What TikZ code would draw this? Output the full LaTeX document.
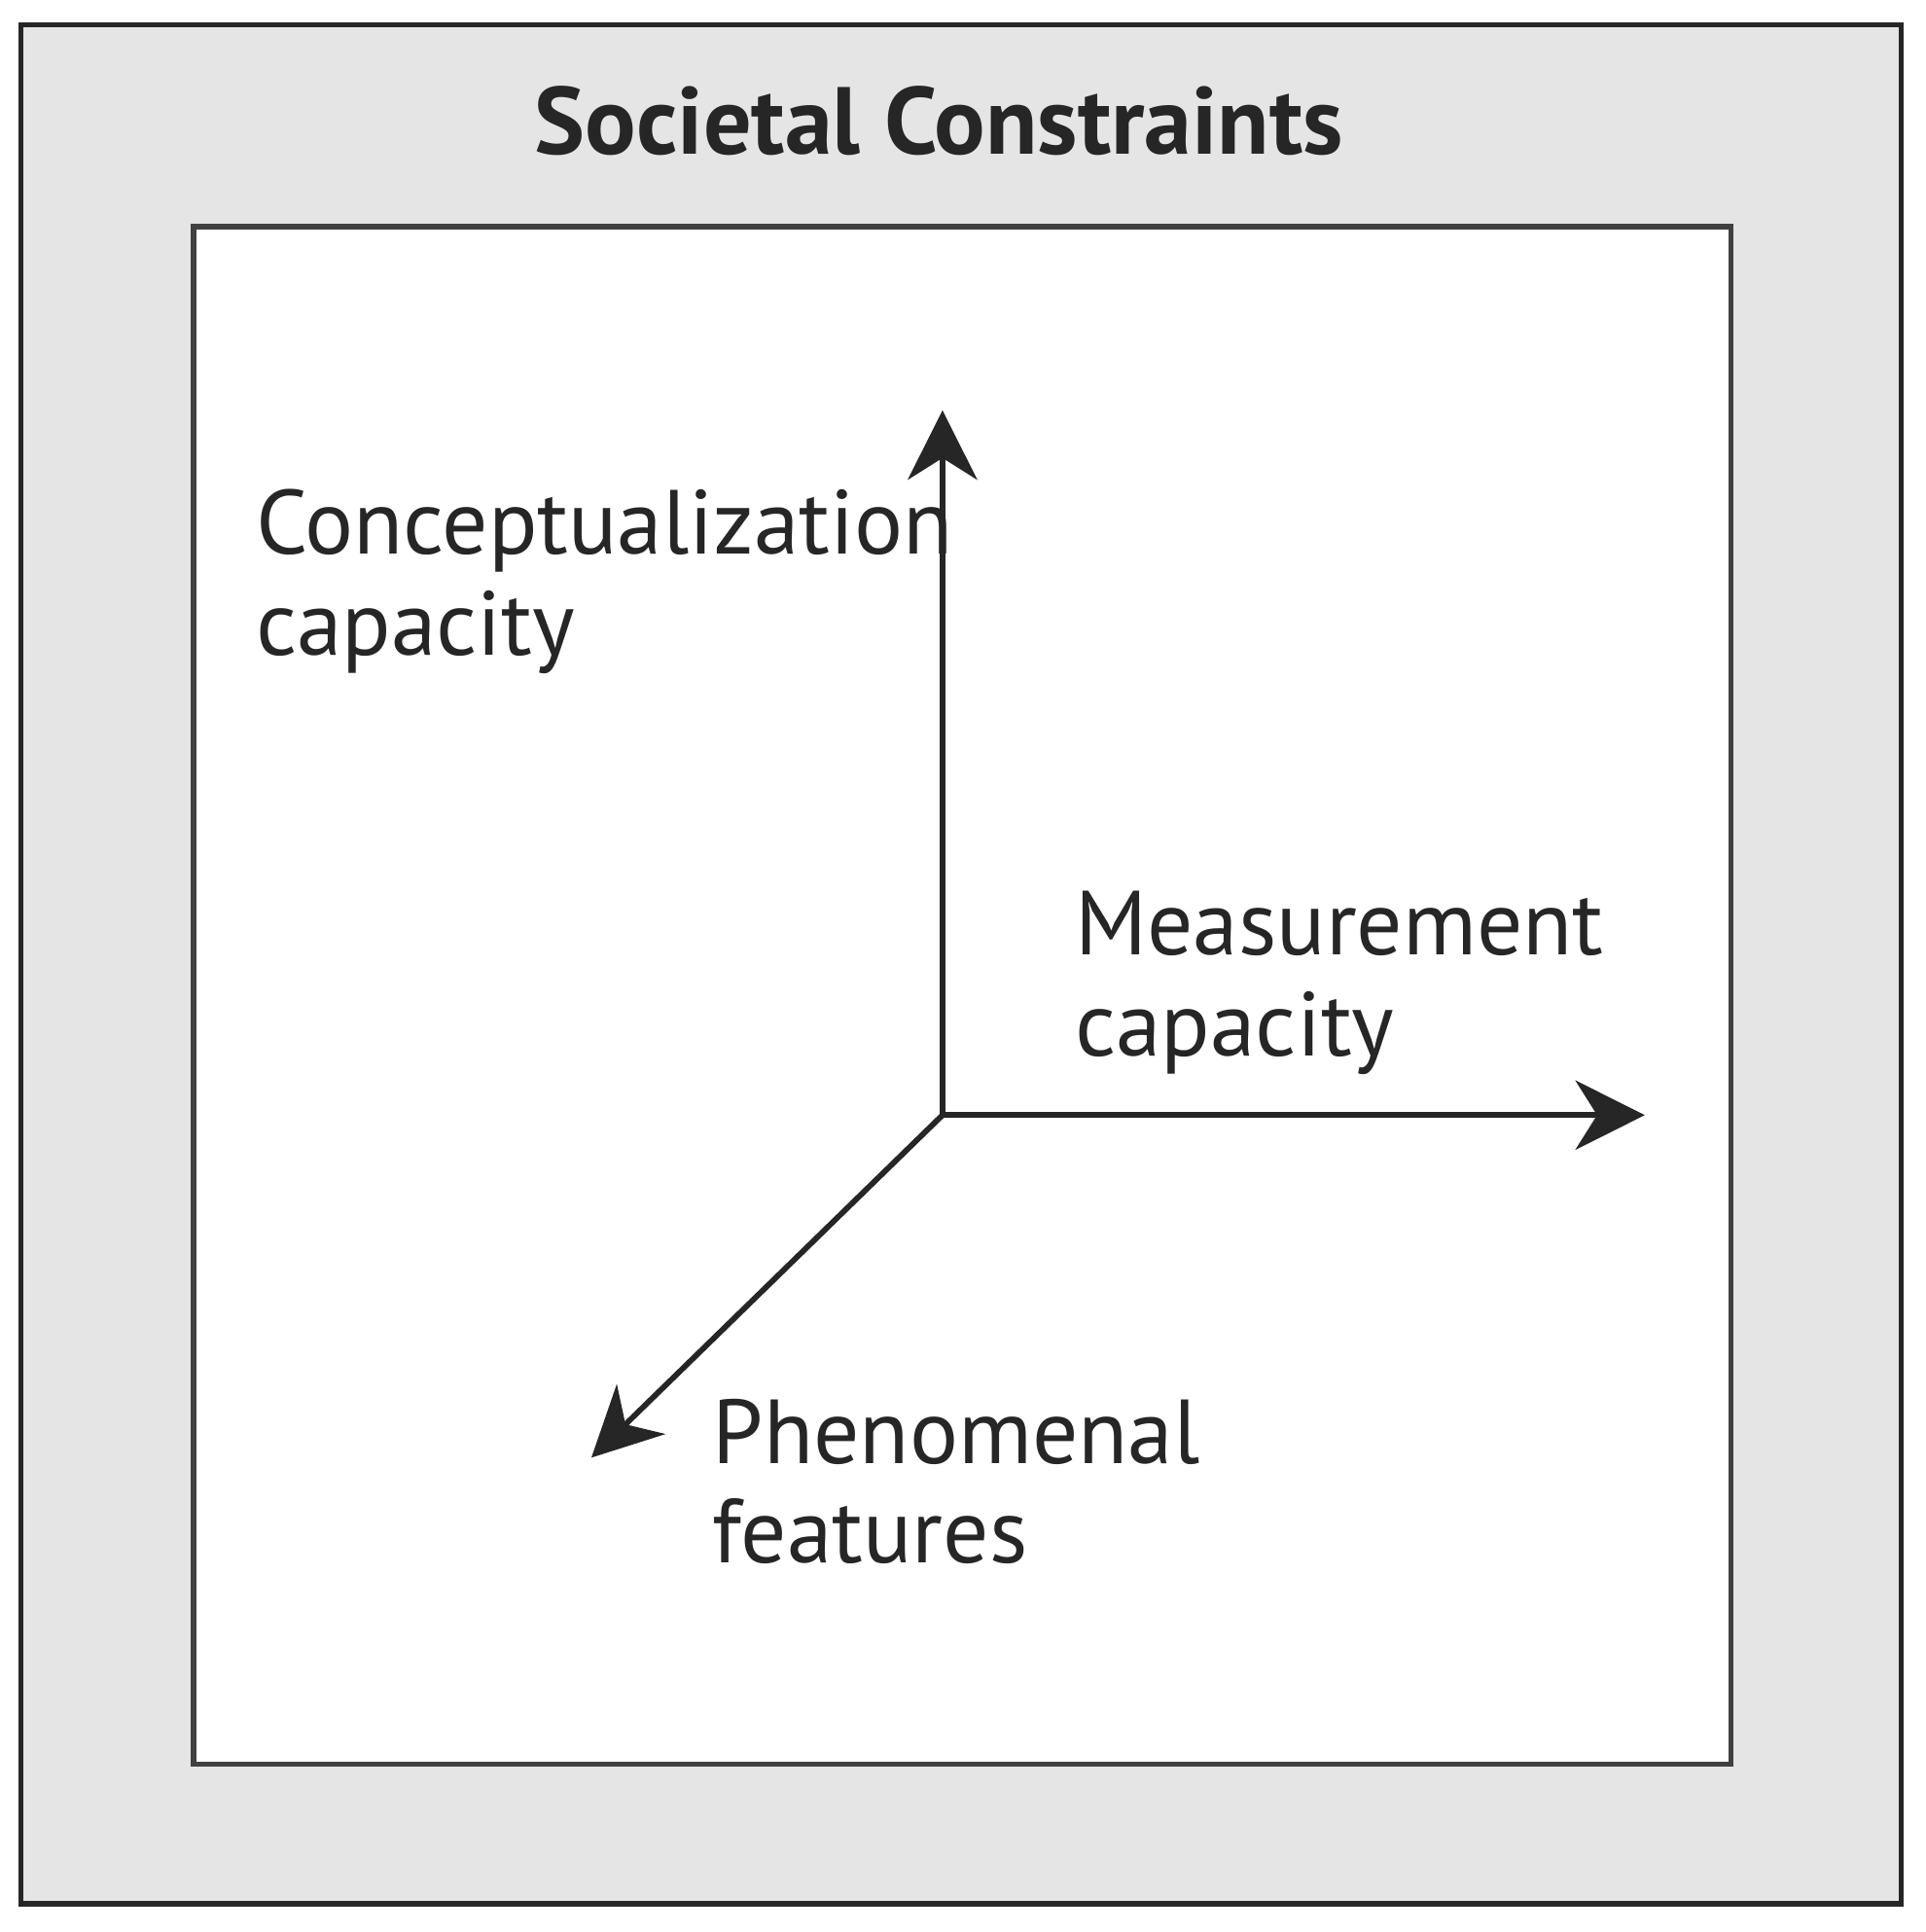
\documentclass[tikz,border=0pt]{standalone}
\usepackage{fontspec}
\setmainfont{PT Sans}
\usetikzlibrary{arrows.meta}
\begin{document}
\begin{tikzpicture}[x=0.01cm,y=-0.01cm,
  lbl/.style={inner sep=0pt,align=left,anchor=base west,font=\fontsize{21pt}{23.5pt}\selectfont,text=black!85},
  ax/.style={line width=1.3pt,draw=black!85,-{Stealth[length=16pt,width=16pt,inset=5pt]}}]
\useasboundingbox (0,0) rectangle (1563,1568);
\fill[white] (0,0) rectangle (1563,1568);
\draw[line width=1.2pt,draw=black!85,fill=black!10] (17,20) rectangle (1543,1545);
\draw[line width=1.2pt,draw=black!75,fill=white] (157,184) rectangle (1405,1432);
\node[inner sep=0pt,font=\bfseries\fontsize{22pt}{24pt}\selectfont,text=black!85] (title) at (762,98) {Societal Constraints};
\coordinate (o) at (765,905);
\coordinate (up) at (765,333);
\coordinate (rt) at (1335,905);
\coordinate (dl) at (480,1183);
\draw[ax] (o) -- (up);
\draw[ax] (o) -- (rt);
\draw[ax] (o) -- (dl);
\node[lbl] (c1) at (207,450) {Conceptualization};
\node[lbl] (c2) at (207,532) {capacity};
\node[lbl] (m1) at (872,775) {Measurement};
\node[lbl] (m2) at (872,857) {capacity};
\node[lbl] (p1) at (578,1188) {Phenomenal};
\node[lbl] (p2) at (578,1268) {features};
\end{tikzpicture}
\end{document}
